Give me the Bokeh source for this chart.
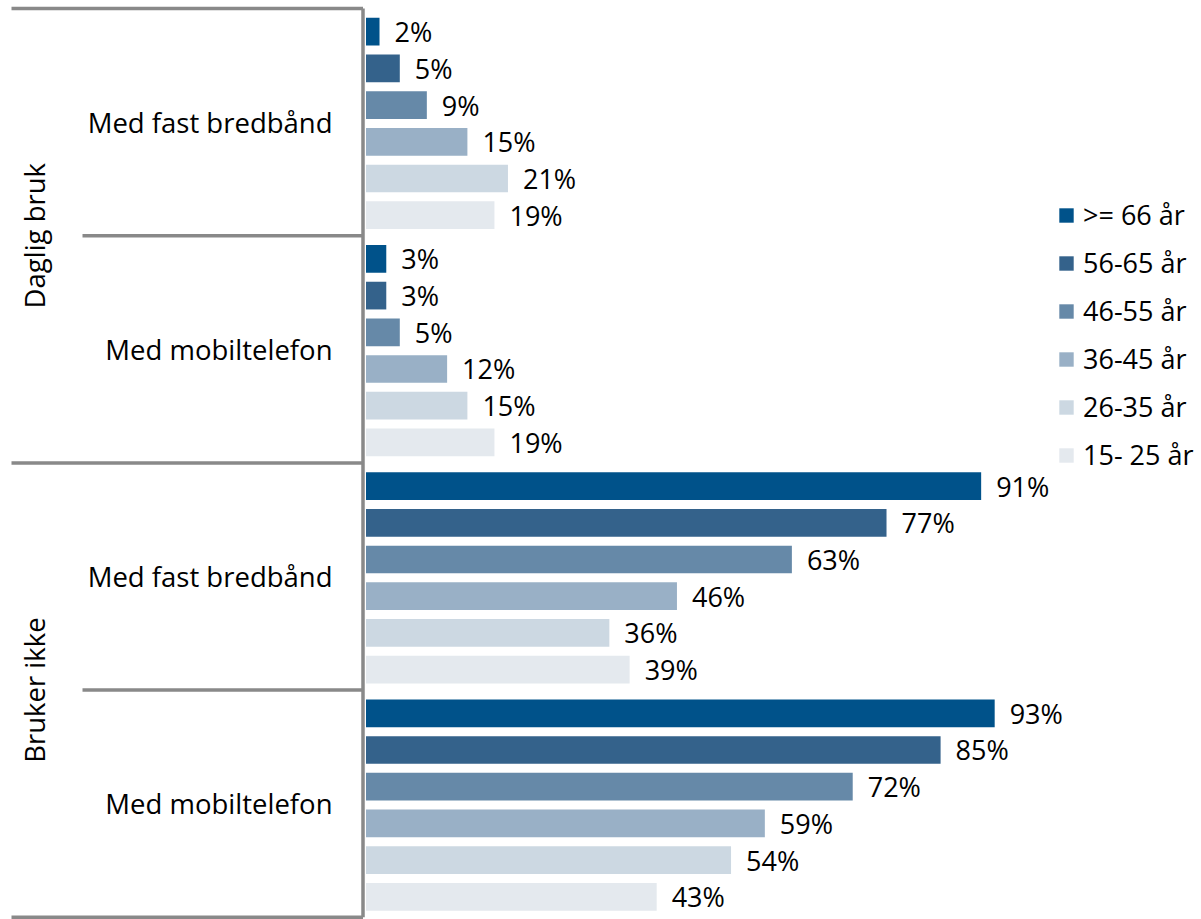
from bokeh.plotting import figure
from bokeh.models import ColumnDataSource, Range1d, Legend, LegendItem
from bokeh.core.properties import value
from bokeh.embed import file_html
from bokeh.resources import INLINE
import math

# ---------------- data ----------------
groups = ["Daglig bruk", "Bruker ikke"]
subgroups = ["Med fast bredbånd", "Med mobiltelefon"]
ages = [">= 66 år", "56-65 år", "46-55 år", "36-45 år", "26-35 år", "15- 25 år"]
colors = ["#00528a", "#34628b", "#6689a8", "#99b0c6", "#ccd8e2", "#e4e9ee"]

# values (%) per age group, in band order:
# Daglig bruk/fast, Daglig bruk/mobil, Bruker ikke/fast, Bruker ikke/mobil
v66 = [2, 3, 91, 93]
v56 = [5, 3, 77, 85]
v46 = [9, 5, 63, 72]
v36 = [15, 12, 46, 59]
v26 = [21, 15, 36, 54]
v15 = [19, 19, 39, 43]
series = [v66, v56, v46, v36, v26, v15]

# ---------------- layout ----------------
W, H = 1201, 919
SLOT_PX = 36.7           # px per bar slot
BAND = 227.2 / SLOT_PX   # one subgroup band in slot units
PAD = 0.632              # center of first bar inside band
BAR_H = 0.755
ZERO_PX = 365.5          # frame px of x=0
TOP_PX = 8.0             # frame px of top line
XS = 6.76                # px per %
FONT = "Open Sans"
FS = "27px"
LINE = "#898989"

x0 = -ZERO_PX / XS
y_top = -TOP_PX / SLOT_PX
p = figure(width=W, height=H, output_backend="svg", toolbar_location=None,
           x_range=Range1d(x0, x0 + W / XS),
           y_range=Range1d(y_top + H / SLOT_PX, y_top),
           min_border=0, outline_line_color=None,
           x_axis_location=None, y_axis_location=None)
p.xgrid.visible = False
p.ygrid.visible = False

nb = len(groups) * len(subgroups)
renderers = []
for i, (name, vals, col) in enumerate(zip(ages, series, colors)):
    ys = [b * BAND + PAD + i for b in range(nb)]
    src = ColumnDataSource(dict(y=ys, v=vals, lab=[f"{v}%" for v in vals]))
    r = p.hbar(y="y", left=0, right="v", height=BAR_H, source=src,
               fill_color=col, line_color=None)
    renderers.append(r)
    p.text(x="v", y="y", text="lab", source=src, x_offset=15,
           text_align="left", text_baseline="middle", text_color="black",
           text_font=value(FONT), text_font_size=value(FS))

# structural lines
xl_axis = -3.0 / XS
xl_full = (11 - ZERO_PX) / XS
xl_sub = (82 - ZERO_PX) / XS
p.segment(x0=[xl_axis], y0=[0], x1=[xl_axis], y1=[nb * BAND],
          line_color=LINE, line_width=3.5)
full_ys = [g * len(subgroups) * BAND for g in range(len(groups) + 1)]
p.segment(x0=[xl_full] * len(full_ys), y0=full_ys, x1=[xl_axis] * len(full_ys), y1=full_ys,
          line_color=LINE, line_width=3.5)
sub_ys = [(g * len(subgroups) + s) * BAND for g in range(len(groups)) for s in range(1, len(subgroups))]
p.segment(x0=[xl_sub] * len(sub_ys), y0=sub_ys, x1=[xl_axis] * len(sub_ys), y1=sub_ys,
          line_color=LINE, line_width=3.5)

# subgroup labels
sub_lab = [s for g in groups for s in subgroups]
sub_y = [b * BAND + BAND / 2 for b in range(nb)]
p.text(x=[0] * nb, y=sub_y, text=sub_lab, x_offset=-33.5,
       text_align="right", text_baseline="middle", text_color="black",
       text_font=value(FONT), text_font_size=value("27.5px"))

# group labels (rotated)
grp_y = [(g * len(subgroups) + len(subgroups) / 2) * BAND for g in range(len(groups))]
p.text(x=[0] * len(groups), y=grp_y, text=groups, x_offset=-331.5,
       angle=math.pi / 2, text_align="center", text_baseline="middle",
       text_color="black", text_font=value(FONT), text_font_size=value("27.5px"))

legend = Legend(items=[LegendItem(label=a, renderers=[r]) for a, r in zip(ages, renderers)],
                location=(1057, 446), orientation="vertical",
                glyph_width=18, glyph_height=18, label_standoff=8, spacing=11,
                padding=0, margin=0, border_line_color=None, background_fill_alpha=0,
                label_text_font=FONT, label_text_font_size=FS, label_text_color="black")
p.add_layout(legend)

open("out.html", "w").write(file_html(p, INLINE))
